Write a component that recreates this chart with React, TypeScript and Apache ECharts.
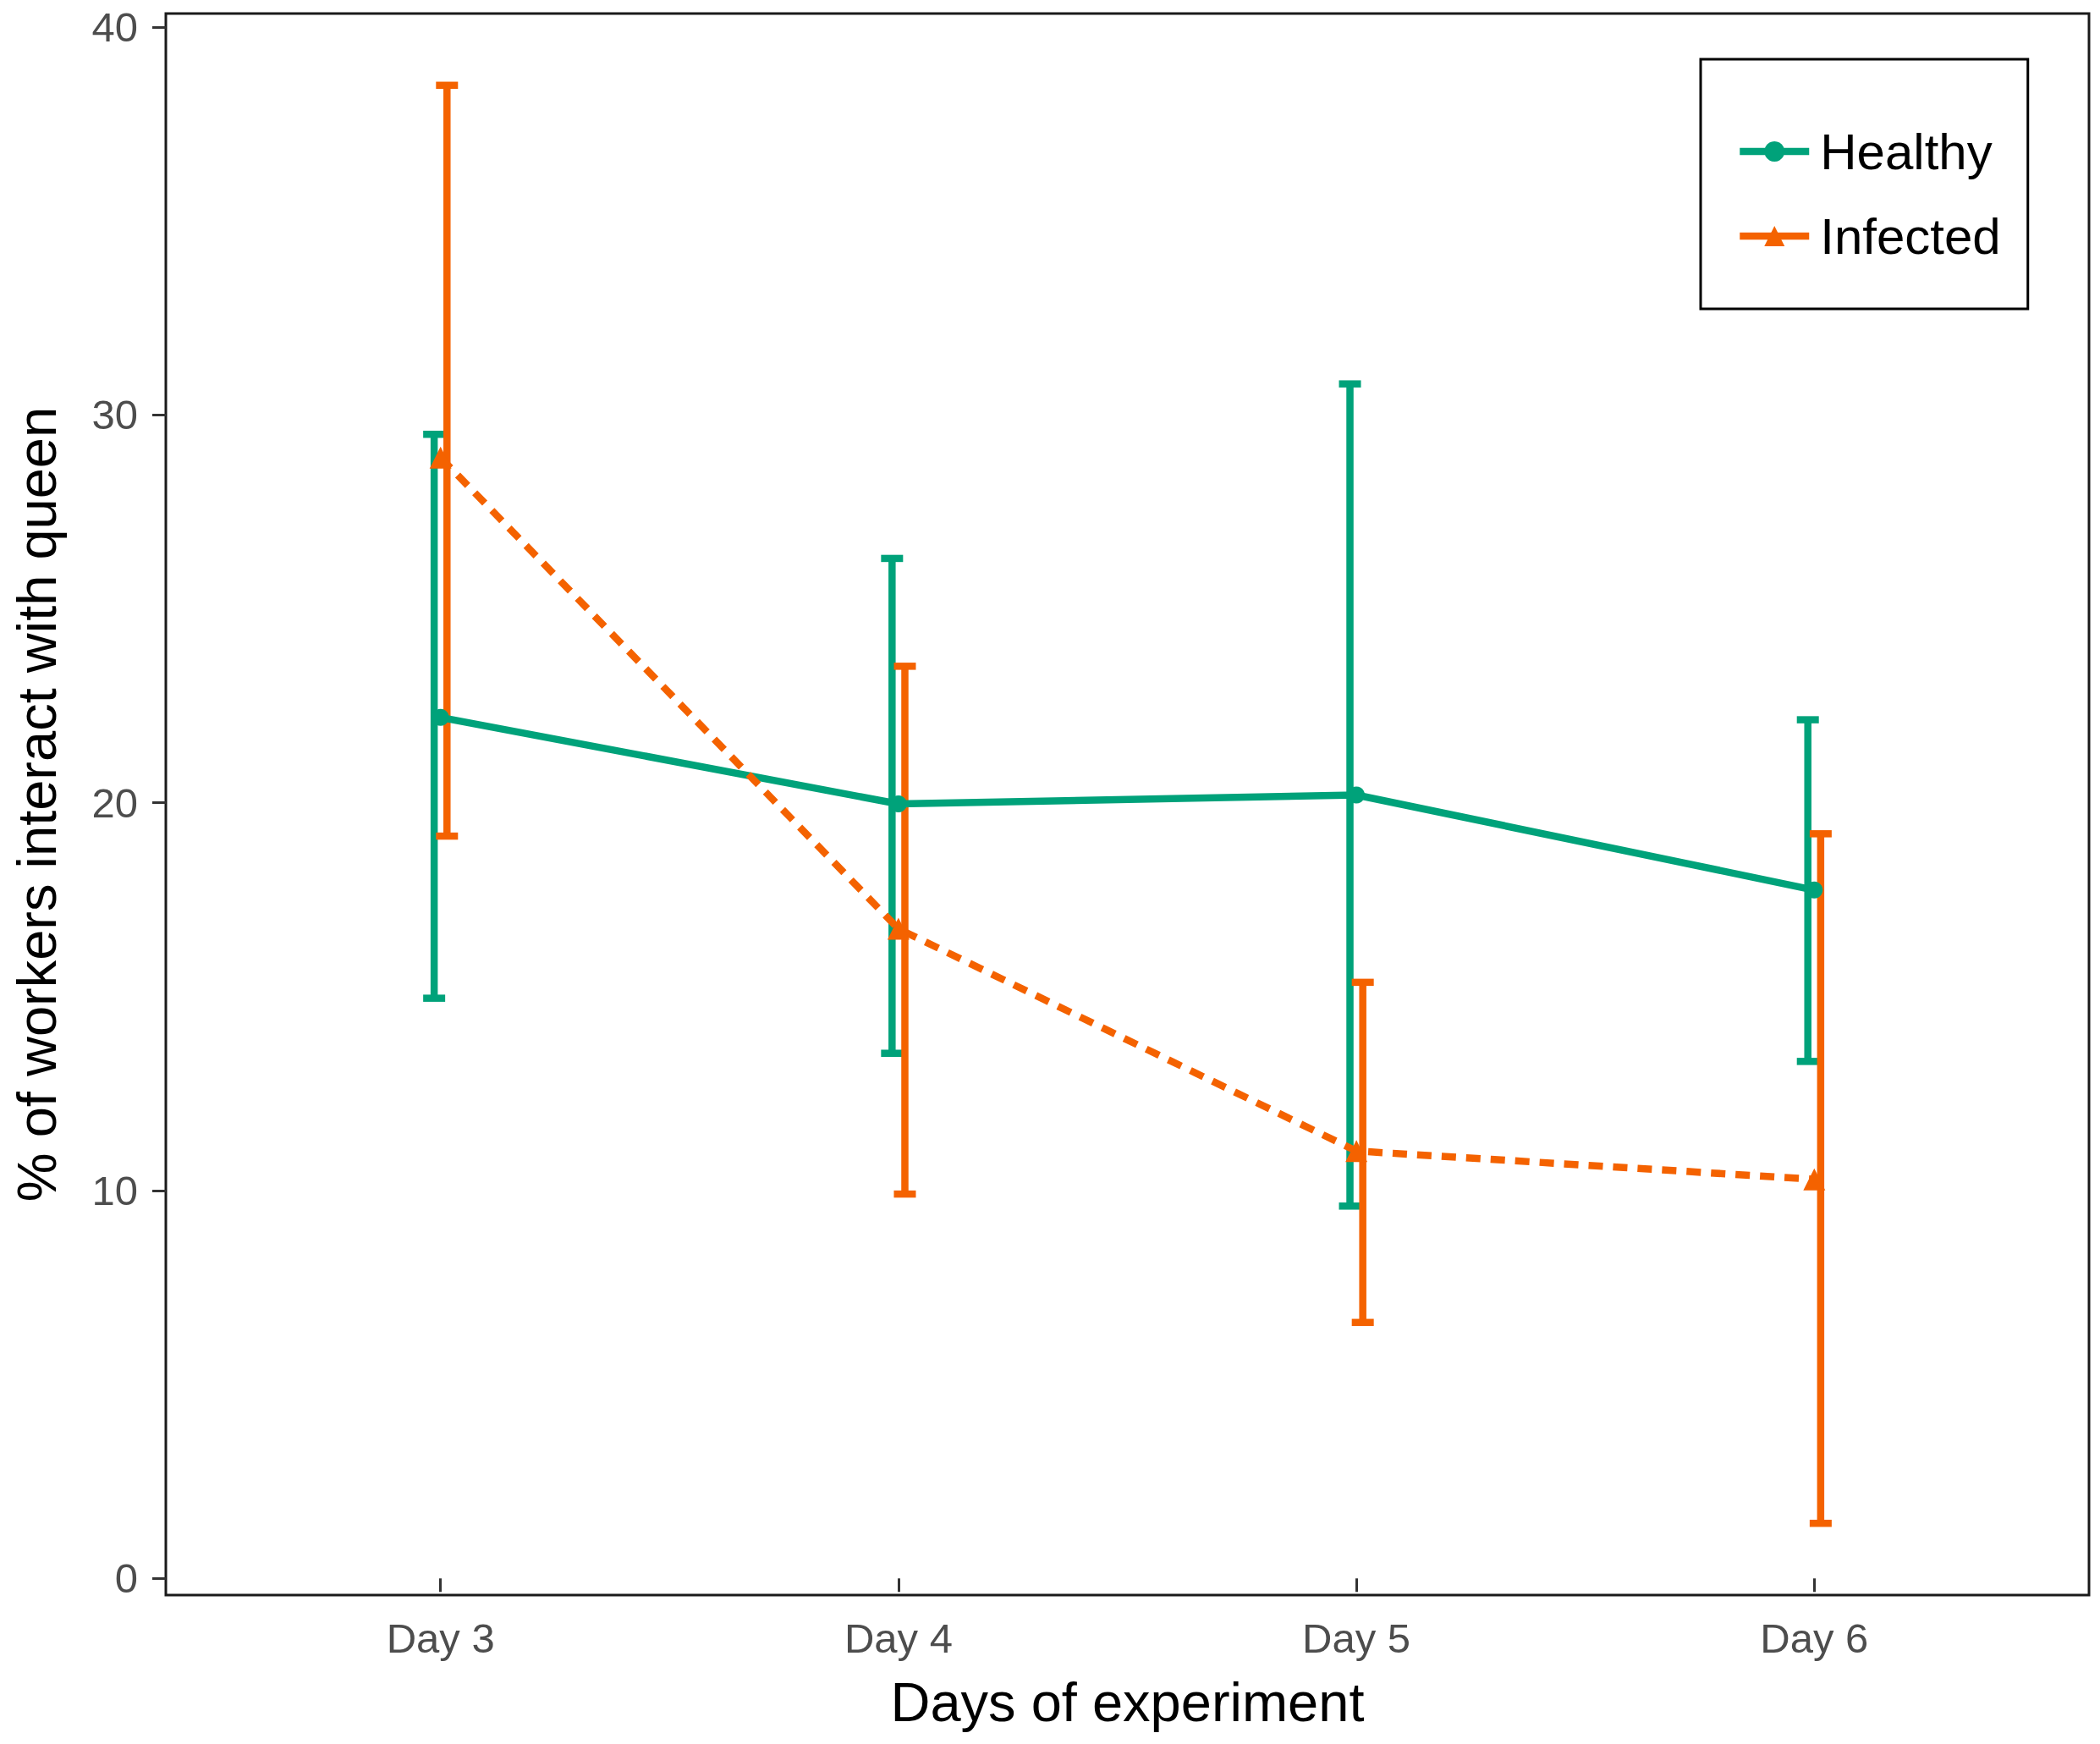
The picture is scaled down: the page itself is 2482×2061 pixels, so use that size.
import React, { useEffect, useRef } from "react";
import * as echarts from "echarts";

const days = ["Day 3", "Day 4", "Day 5", "Day 6"];
const dayPositions = [3, 4, 5, 6];
const yTicks = [0, 10, 20, 30, 40];

const healthyMean = [22.2, 19.97, 20.2, 17.75];
const healthyLower = [14.96, 13.54, 9.6, 13.33];
const healthyUpper = [29.5, 26.3, 30.8, 22.14];

const infectedMean = [28.9, 16.75, 11.02, 10.29];
const infectedLower = [19.14, 9.91, 6.6, 1.42];
const infectedUpper = [38.5, 23.52, 15.37, 19.2];

const GREEN = "#00A27A";
const ORANGE = "#F46200";
const FONT = "'Liberation Sans', Arial, sans-serif";
const DODGE = 0.014;

function errorSeries(name: string, color: string, lower: number[], upper: number[], offset: number) {
  return {
    type: "custom",
    name,
    z: 2,
    data: dayPositions.map((d, i) => [d + offset, lower[i], upper[i]]),
    encode: { x: 0, y: [1, 2] },
    renderItem: (params: any, api: any) => {
      const x = api.value(0);
      const lo = api.coord([x, api.value(1)]);
      const hi = api.coord([x, api.value(2)]);
      const cap = 13;
      const style = { stroke: color, lineWidth: 8.5, fill: "none" };
      return {
        type: "group",
        children: [
          { type: "line", shape: { x1: lo[0], y1: lo[1], x2: hi[0], y2: hi[1] }, style },
          { type: "line", shape: { x1: hi[0] - cap, y1: hi[1], x2: hi[0] + cap, y2: hi[1] }, style },
          { type: "line", shape: { x1: lo[0] - cap, y1: lo[1], x2: lo[0] + cap, y2: lo[1] }, style },
        ],
      };
    },
  };
}

export default function App() {
  const ref = useRef<HTMLDivElement>(null);
  useEffect(() => {
    if (!ref.current) return;
    const chart = echarts.init(ref.current, null, { renderer: "svg" });
    chart.setOption({
      animation: false,
      backgroundColor: "#ffffff",
      textStyle: { fontFamily: FONT },
      grid: {
        left: 196,
        right: 13,
        top: 16,
        bottom: 176,
        show: true,
        borderColor: "#1a1a1a",
        borderWidth: 3,
        backgroundColor: "transparent",
      },
      xAxis: {
        type: "value",
        min: 2.4,
        max: 6.6,
        name: "Days of experiment",
        nameLocation: "middle",
        nameGap: 94,
        nameTextStyle: { fontSize: 65, color: "#000", fontFamily: FONT },
        axisLine: { show: false },
        splitLine: { show: false },
        axisTick: {
          show: true,
          length: 16,
          customValues: dayPositions,
          lineStyle: { color: "#333333", width: 3 },
        },
        axisLabel: {
          customValues: dayPositions,
          formatter: (v: number) => days[dayPositions.indexOf(v)] ?? "",
          fontSize: 49,
          color: "#4D4D4D",
          margin: 26,
          fontFamily: FONT,
        },
      },
      yAxis: {
        type: "value",
        min: -0.43,
        max: 40.35,
        name: "% of workers interact with queen",
        nameLocation: "middle",
        nameRotate: 90,
        nameGap: 120,
        nameTextStyle: { fontSize: 65, color: "#000", fontFamily: FONT },
        axisLine: { show: false },
        splitLine: { show: false },
        axisTick: {
          show: true,
          length: 16,
          customValues: yTicks,
          lineStyle: { color: "#333333", width: 3 },
        },
        axisLabel: {
          customValues: yTicks,
          fontSize: 49,
          color: "#4D4D4D",
          margin: 33,
          fontFamily: FONT,
        },
      },
      legend: {
        data: ["Healthy", "Infected"],
        orient: "vertical",
        left: 2010,
        top: 70,
        padding: [79, 32, 56, 42],
        itemWidth: 82,
        itemHeight: 30,
        itemGap: 40,
        borderColor: "#000",
        borderWidth: 3,
        backgroundColor: "#fff",
        selectedMode: false,
        lineStyle: { type: "solid", width: 8.5 },
        textStyle: { fontSize: 60, color: "#000", lineHeight: 60, padding: [0, 0, 0, 8], fontFamily: FONT },
      },
      series: [
        errorSeries("Healthy SE", GREEN, healthyLower, healthyUpper, -DODGE),
        errorSeries("Infected SE", ORANGE, infectedLower, infectedUpper, DODGE),
        {
          type: "line",
          name: "Healthy",
          z: 3,
          data: dayPositions.map((d, i) => [d, healthyMean[i]]),
          symbol: "circle",
          symbolSize: 20,
          itemStyle: { color: GREEN },
          lineStyle: { color: GREEN, width: 8.5, type: "solid" },
        },
        {
          type: "line",
          name: "Infected",
          z: 3,
          data: dayPositions.map((d, i) => [d, infectedMean[i]]),
          symbol: "triangle",
          symbolSize: 26,
          itemStyle: { color: ORANGE },
          lineStyle: { color: ORANGE, width: 8.5, type: [17, 12] },
        },
      ],
    });
    return () => chart.dispose();
  }, []);
  return (
    <div
      ref={ref}
      style={{ position: "absolute", left: 0, top: 0, width: 2482, height: 2061 }}
    />
  );
}
